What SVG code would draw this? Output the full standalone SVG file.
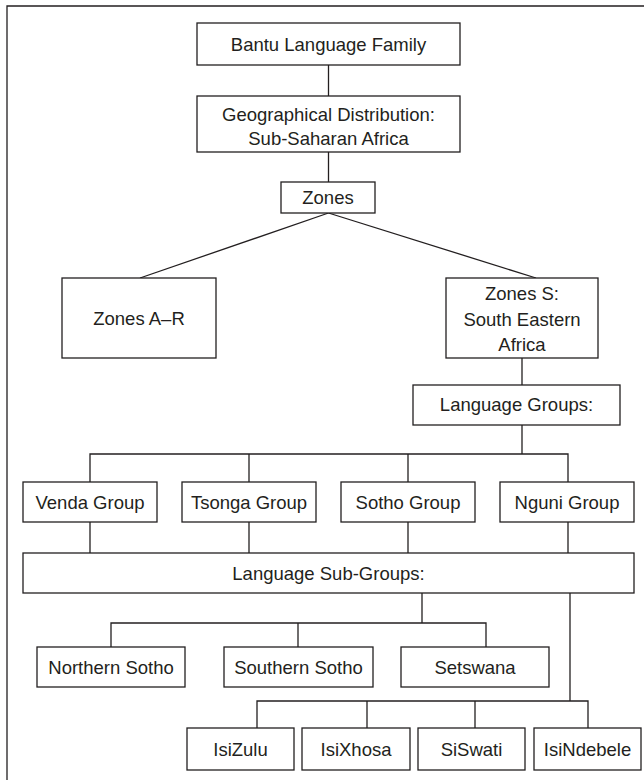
<svg xmlns="http://www.w3.org/2000/svg" width="644" height="780" viewBox="0 0 644 780">
<style>
.b{fill:#fff;stroke:#231f20;stroke-width:1.3}
.t{font-family:"Liberation Sans",Arial,sans-serif;font-size:18.5px;fill:#231f20;text-anchor:middle}
.c{fill:none;stroke:#231f20;stroke-width:1.3}
</style>
<rect width="644" height="780" fill="#fff"/>
<path class="c" d="M7,780 V6 H644"/>
<g id="connectors">
<path class="c" d="M328.5,65 V96"/>
<path class="c" d="M328.5,152 V182"/>
<path class="c" d="M328.5,213 L140,278"/>
<path class="c" d="M328.5,213 L536,278"/>
<path class="c" d="M522,358 V385"/>
<path class="c" d="M522,425 V454"/>
<path class="c" d="M90,482 V454 H568 V482"/>
<path class="c" d="M249,454 V482"/>
<path class="c" d="M408,454 V482"/>
<path class="c" d="M90,522 V553"/>
<path class="c" d="M249,522 V553"/>
<path class="c" d="M408,522 V553"/>
<path class="c" d="M568,522 V553"/>
<path class="c" d="M422,593 V623"/>
<path class="c" d="M111,647 V623 H486 V647"/>
<path class="c" d="M298,623 V647"/>
<path class="c" d="M570,593 V701"/>
<path class="c" d="M257,728 V701 H588 V728"/>
<path class="c" d="M367,701 V728"/>
<path class="c" d="M475,701 V728"/>
</g>
<g id="bantu"><rect class="b" x="197" y="23" width="263" height="42"/><text class="t" x="328.5" y="50.5">Bantu Language Family</text></g>
<g id="geo"><rect class="b" x="197" y="96" width="263" height="56"/><text class="t" x="328.5" y="121">Geographical Distribution:</text><text class="t" x="328.5" y="145">Sub-Saharan Africa</text></g>
<g id="zones"><rect class="b" x="281" y="182" width="94" height="31"/><text class="t" x="328" y="203.5">Zones</text></g>
<g id="zonesAR"><rect class="b" x="62" y="278" width="154" height="80"/><text class="t" x="139" y="325">Zones A–R</text></g>
<g id="zonesS"><rect class="b" x="446" y="278" width="152" height="80"/><text class="t" x="522" y="300">Zones S:</text><text class="t" x="522" y="326">South Eastern</text><text class="t" x="522" y="351">Africa</text></g>
<g id="langGroups"><rect class="b" x="413" y="385" width="207" height="40"/><text class="t" x="516.5" y="411">Language Groups:</text></g>
<g id="venda"><rect class="b" x="23" y="482" width="134" height="40"/><text class="t" x="90" y="508.5">Venda Group</text></g>
<g id="tsonga"><rect class="b" x="182" y="482" width="134" height="40"/><text class="t" x="249" y="508.5">Tsonga Group</text></g>
<g id="sotho"><rect class="b" x="341" y="482" width="134" height="40"/><text class="t" x="408" y="508.5">Sotho Group</text></g>
<g id="nguni"><rect class="b" x="500" y="482" width="134" height="40"/><text class="t" x="567" y="508.5">Nguni Group</text></g>
<g id="subGroups"><rect class="b" x="23" y="553" width="611" height="40"/><text class="t" x="328.5" y="579.5">Language Sub-Groups:</text></g>
<g id="northernSotho"><rect class="b" x="37" y="647" width="148" height="40"/><text class="t" x="111" y="673.5">Northern Sotho</text></g>
<g id="southernSotho"><rect class="b" x="224" y="647" width="149" height="40"/><text class="t" x="298.5" y="673.5">Southern Sotho</text></g>
<g id="setswana"><rect class="b" x="401" y="647" width="148" height="40"/><text class="t" x="475" y="673.5">Setswana</text></g>
<g id="isizulu"><rect class="b" x="187" y="728" width="107" height="42"/><text class="t" x="240.5" y="755.5">IsiZulu</text></g>
<g id="isixhosa"><rect class="b" x="302" y="728" width="108" height="42"/><text class="t" x="356" y="755.5">IsiXhosa</text></g>
<g id="siswati"><rect class="b" x="418" y="728" width="107" height="42"/><text class="t" x="471.5" y="755.5">SiSwati</text></g>
<g id="isindebele"><rect class="b" x="534" y="728" width="107" height="42"/><text class="t" x="587.5" y="755.5">IsiNdebele</text></g>
</svg>
